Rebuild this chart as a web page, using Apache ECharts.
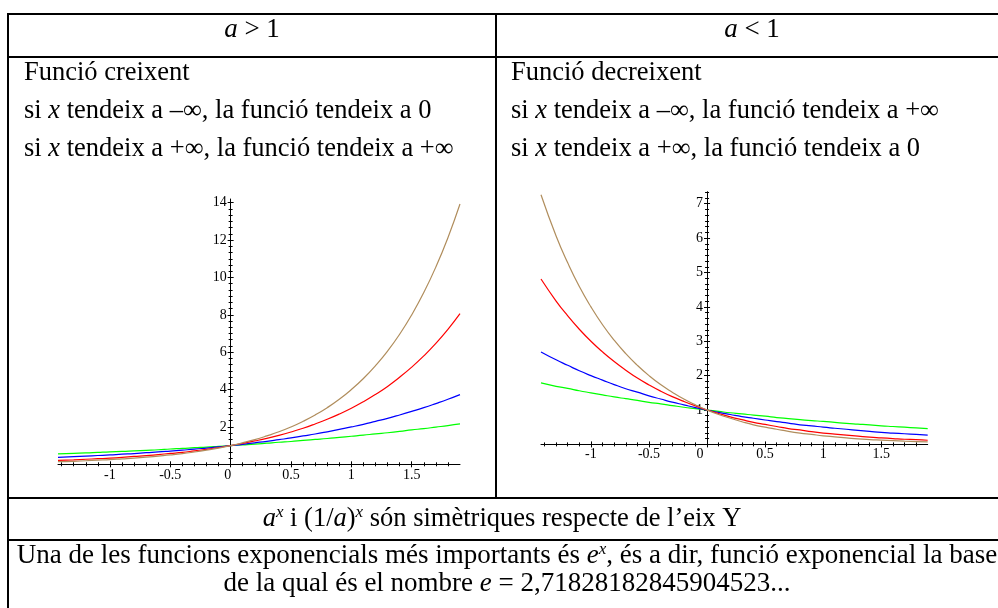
<!DOCTYPE html>
<html>
<head>
<meta charset="utf-8">
<script src="https://cdn.jsdelivr.net/npm/echarts@6/dist/echarts.min.js"></script>
<style>
html,body{margin:0;padding:0;background:#fff;}
#c{width:998px;height:608px;}
</style>
</head>
<body>
<div id="c"></div>
<script>
// ---- data ----
const xs = [-1.43, -1.3, -1.2, -1.1, -1.0, -0.9, -0.8, -0.7, -0.6, -0.5, -0.4, -0.3, -0.2, -0.1, 0,
  0.1, 0.2, 0.3, 0.4, 0.5, 0.6, 0.7, 0.8, 0.9, 1.0, 1.1, 1.2, 1.3, 1.4, 1.5, 1.6, 1.7, 1.8, 1.9];

// a > 1  (a = 4, 3, 2, 1.5)
const growBrown = [0.14, 0.16, 0.19, 0.22, 0.25, 0.29, 0.33, 0.38, 0.44, 0.5, 0.57, 0.66, 0.76, 0.87, 1,
  1.15, 1.32, 1.52, 1.74, 2, 2.30, 2.64, 3.03, 3.48, 4, 4.59, 5.28, 6.06, 6.96, 8, 9.19, 10.56, 12.13, 13.93];
const growRed = [0.21, 0.24, 0.27, 0.30, 0.33, 0.37, 0.42, 0.46, 0.52, 0.58, 0.64, 0.72, 0.80, 0.90, 1,
  1.12, 1.25, 1.39, 1.55, 1.73, 1.93, 2.16, 2.41, 2.69, 3, 3.35, 3.74, 4.17, 4.66, 5.20, 5.80, 6.47, 7.22, 8.06];
const growBlue = [0.37, 0.41, 0.44, 0.47, 0.5, 0.54, 0.57, 0.62, 0.66, 0.71, 0.76, 0.81, 0.87, 0.93, 1,
  1.07, 1.15, 1.23, 1.32, 1.41, 1.52, 1.62, 1.74, 1.87, 2, 2.14, 2.30, 2.46, 2.64, 2.83, 3.03, 3.25, 3.48, 3.73];
const growGreen = [0.56, 0.59, 0.61, 0.64, 0.67, 0.69, 0.72, 0.75, 0.78, 0.82, 0.85, 0.89, 0.92, 0.96, 1,
  1.04, 1.08, 1.13, 1.18, 1.22, 1.28, 1.33, 1.38, 1.44, 1.5, 1.56, 1.63, 1.69, 1.76, 1.84, 1.91, 1.99, 2.07, 2.16];

// a < 1  (a = 1/4, 1/3, 1/2, 2/3)
const decBrown = [7.26, 6.06, 5.28, 4.59, 4, 3.48, 3.03, 2.64, 2.30, 2, 1.74, 1.52, 1.32, 1.15, 1,
  0.87, 0.76, 0.66, 0.57, 0.5, 0.44, 0.38, 0.33, 0.29, 0.25, 0.22, 0.19, 0.16, 0.14, 0.125, 0.11, 0.095, 0.083, 0.072];
const decRed = [4.81, 4.17, 3.74, 3.35, 3, 2.69, 2.41, 2.16, 1.93, 1.73, 1.55, 1.39, 1.25, 1.12, 1,
  0.90, 0.80, 0.72, 0.64, 0.58, 0.52, 0.46, 0.42, 0.37, 0.33, 0.30, 0.27, 0.24, 0.21, 0.19, 0.17, 0.15, 0.14, 0.12];
const decBlue = [2.69, 2.46, 2.30, 2.14, 2, 1.87, 1.74, 1.62, 1.52, 1.41, 1.32, 1.23, 1.15, 1.07, 1,
  0.93, 0.87, 0.81, 0.76, 0.71, 0.66, 0.62, 0.57, 0.54, 0.5, 0.47, 0.44, 0.41, 0.38, 0.35, 0.33, 0.31, 0.29, 0.27];
const decGreen = [1.79, 1.69, 1.63, 1.56, 1.5, 1.44, 1.38, 1.33, 1.28, 1.22, 1.18, 1.13, 1.08, 1.04, 1,
  0.96, 0.92, 0.89, 0.85, 0.82, 0.78, 0.75, 0.72, 0.69, 0.67, 0.64, 0.61, 0.59, 0.57, 0.54, 0.52, 0.50, 0.48, 0.46];

const xTickLabels = [-1, -0.5, 0, 0.5, 1, 1.5];
const yTicksGrow = [2, 4, 6, 8, 10, 12, 14];
const yTicksDec = [1, 2, 3, 4, 5, 6, 7];

// ---- styling ----
const SERIF = 'Liberation Serif';
const C_BROWN = '#B08D5C', C_RED = '#FF0000', C_BLUE = '#0000FF', C_GREEN = '#00FF00';
const X_MIN = -1.43, X_MAX = 1.9;

function zip(x, y) { return x.map((v, i) => [v, y[i]]); }

function xAxes(grid, labelMargin, zeroPad) {
  const common = {
    type: 'value', gridIndex: grid, min: X_MIN, max: X_MAX, position: 'bottom',
    splitLine: { show: false },
    minorTick: { show: true, splitNumber: 5, length: 2, lineStyle: { color: '#000', width: 1 } }
  };
  return [
    Object.assign({}, common, {
      axisLine: { show: true, onZero: false, lineStyle: { color: '#000', width: 1 } },
      axisTick: { show: true, length: 3, customValues: xTickLabels, lineStyle: { color: '#000' } },
      axisLabel: { show: true, customValues: xTickLabels, margin: labelMargin, color: '#000',
        fontFamily: SERIF, fontSize: 14,
        formatter: v => (v === 0 ? '{z|0}' : String(v)),
        rich: { z: { fontFamily: SERIF, fontSize: 14, color: '#000', padding: [0, zeroPad, 0, 0] } } }
    }),
    Object.assign({}, common, {
      axisLine: { show: false, onZero: false },
      axisTick: { show: true, inside: true, length: 3, customValues: xTickLabels, lineStyle: { color: '#000' } },
      axisLabel: { show: false }
    })
  ];
}
// y axis sits at x = 0: shift it in from the grid's left edge by the width of the negative part
function yAxes(grid, max, interval, ticks, gridLeft, gridRight) {
  const w = gridRight - gridLeft;
  const shift = -w * (0 - X_MIN) / (X_MAX - X_MIN);
  const common = {
    type: 'value', gridIndex: grid, min: 0, max: max, interval: interval, position: 'left', offset: shift,
    splitLine: { show: false },
    minorTick: { show: true, splitNumber: 6, length: 2, lineStyle: { color: '#000', width: 1 } }
  };
  return [
    Object.assign({}, common, {
      axisLine: { show: true, onZero: false, lineStyle: { color: '#000', width: 1 } },
      axisTick: { show: true, length: 3, customValues: ticks, lineStyle: { color: '#000' } },
      axisLabel: { show: true, customValues: ticks, margin: 4, color: '#000', fontFamily: SERIF, fontSize: 14 }
    }),
    Object.assign({}, common, {
      axisLine: { show: false, onZero: false },
      axisTick: { show: true, inside: true, length: 3, customValues: ticks, lineStyle: { color: '#000' } },
      axisLabel: { show: false }
    })
  ];
}
function line(name, xi, yi, data, color) {
  return { name, type: 'line', xAxisIndex: xi, yAxisIndex: yi, data: zip(xs, data), smooth: true,
    showSymbol: false, symbol: 'none', lineStyle: { color, width: 1.2 }, itemStyle: { color }, silent: true };
}

// ---- text ----
const base = { fontFamily: SERIF, fontSize: 26.5, lineHeight: 30, fill: '#000', verticalAlign: 'middle' };
const rich = {
  n: Object.assign({}, base),
  i: Object.assign({}, base, { fontStyle: 'italic' }),
  b: Object.assign({}, base, { fontSize: 27 }),
  bi: Object.assign({}, base, { fontSize: 27, fontStyle: 'italic' }),
  h: Object.assign({}, base, { fontSize: 27 }),
  hi: Object.assign({}, base, { fontSize: 27, fontStyle: 'italic' }),
  s: { fontFamily: SERIF, fontSize: 17, lineHeight: 17, fill: '#000', fontStyle: 'italic', verticalAlign: 'top' }
};
function T(x, y, text, align) {
  return { type: 'text', x: x, y: y, silent: true,
    style: { text: text, rich: rich, align: align, verticalAlign: 'middle' } };
}
function R(x, y, w, h) {
  return { type: 'rect', silent: true, shape: { x: x, y: y, width: w, height: h }, style: { fill: '#000' } };
}

const G0 = { left: 58, right: 460 }, G1 = { left: 541, right: 927.7 };

const graphics = [
  R(7, 13, 991, 2), R(7, 56, 991, 2), R(7, 497, 991, 2), R(7, 539, 991, 2),
  R(7, 13, 2, 595), R(495, 13, 2, 486),
  T(252, 30, '{hi|a}{h| > 1}', 'center'),
  T(752, 30, '{hi|a}{h| < 1}', 'center'),
  T(24, 73, '{n|Funció creixent}', 'left'),
  T(24, 111, '{n|si }{i|x}{n| tendeix a –∞, la funció tendeix a 0}', 'left'),
  T(24, 149, '{n|si }{i|x}{n| tendeix a +∞, la funció tendeix a +∞}', 'left'),
  T(511, 73, '{n|Funció decreixent}', 'left'),
  T(511, 111, '{n|si }{i|x}{n| tendeix a –∞, la funció tendeix a +∞}', 'left'),
  T(511, 149, '{n|si }{i|x}{n| tendeix a +∞, la funció tendeix a 0}', 'left'),
  T(502, 519, '{i|a}{s|x}{n| i (1/}{i|a}{n|)}{s|x}{n| són simètriques respecte de l’eix Y}', 'center'),
  T(507, 556, '{b|Una de les funcions exponencials més importants és }{bi|e}{s|x}{b|, és a dir, funció exponencial la base}', 'center'),
  T(507, 584, '{b|de la qual és el nombre }{bi|e}{b| = 2,71828182845904523...}', 'center')
];

const chart = echarts.init(document.getElementById('c'), null, { renderer: 'canvas' });
chart.setOption({
  animation: false,
  backgroundColor: '#fff',
  grid: [
    { left: G0.left, right: 998 - G0.right, top: 199, bottom: 143.7, containLabel: false },
    { left: G1.left, right: 998 - G1.right, top: 191.7, bottom: 163.6, containLabel: false }
  ],
  xAxis: [].concat(xAxes(0, 4, 6), xAxes(1, 3, 14)),
  yAxis: [].concat(yAxes(0, 14.2, 2, yTicksGrow, G0.left, G0.right), yAxes(1, 7.35, 1, yTicksDec, G1.left, G1.right)),
  series: [
    line('1.5^x', 0, 0, growGreen, C_GREEN),
    line('2^x', 0, 0, growBlue, C_BLUE),
    line('3^x', 0, 0, growRed, C_RED),
    line('4^x', 0, 0, growBrown, C_BROWN),
    line('(2/3)^x', 2, 2, decGreen, C_GREEN),
    line('(1/2)^x', 2, 2, decBlue, C_BLUE),
    line('(1/3)^x', 2, 2, decRed, C_RED),
    line('(1/4)^x', 2, 2, decBrown, C_BROWN)
  ],
  graphic: graphics
});
</script>
</body>
</html>
